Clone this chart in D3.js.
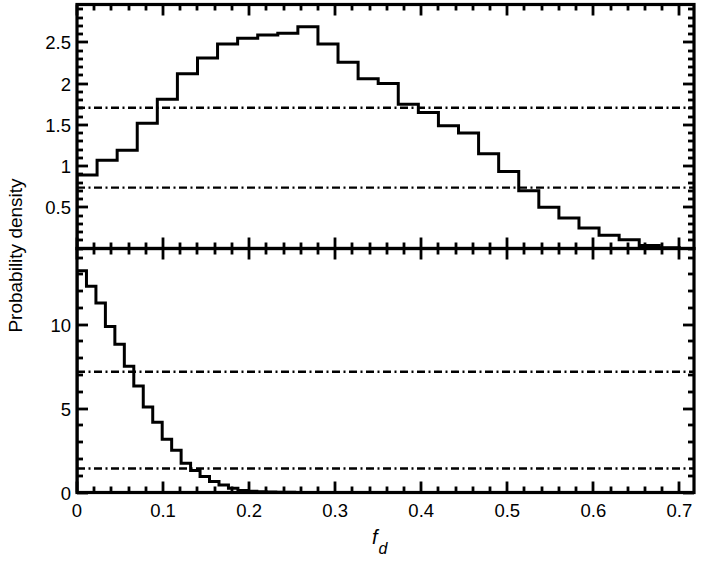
<!DOCTYPE html>
<html>
<head>
<meta charset="utf-8">
<script src="https://cdn.jsdelivr.net/npm/d3@7"></script>
<style>
  html, body { margin: 0; padding: 0; background: #fff; }
  svg { display: block; }
  text { font-family: "Liberation Sans", Arial, Helvetica, sans-serif; fill: #000; }
</style>
</head>
<body>
<svg id="chart" width="702" height="561"></svg>
<script>
// ---- data ----
const topBinStart = 0;
const topBinWidth = 0.7 / 30;
const topValues = [0.89, 1.07, 1.19, 1.52, 1.81, 2.12, 2.31, 2.48, 2.55, 2.59,
                   2.61, 2.69, 2.48, 2.26, 2.06, 2.00, 1.75, 1.65, 1.49, 1.40,
                   1.15, 0.935, 0.70, 0.50, 0.37, 0.25, 0.16, 0.105, 0.035, 0.01];
const topRefLines = [1.706, 0.738];

const bottomBinStart = 0;
const bottomBinWidth = 0.011;
const bottomValues = [13.22, 12.29, 11.29, 9.89, 8.83, 7.53, 6.34, 5.10, 4.18, 3.17,
                      2.52, 1.75, 1.31, 0.95, 0.65, 0.45, 0.25, 0.12, 0.07, 0.05,
                      0.03, 0.02, 0.01, 0.005];
const bottomRefLines = [7.2, 1.43];

const xMajorTicks = [0, 0.1, 0.2, 0.3, 0.4, 0.5, 0.6, 0.7];
const topYMajorTicks = [0.5, 1, 1.5, 2, 2.5];
const bottomYMajorTicks = [0, 5, 10];
const yLabel = "Probability density";

// ---- layout ----
const svg = d3.select("#chart");
const left = 77, right = 694;
const topPanel = { y0: 4.5, y1: 248.5 };
const botPanel = { y0: 248.5, y1: 492.5 };

const x = d3.scaleLinear().domain([0, 0.717]).range([left, right]);
const yTop = d3.scaleLinear().domain([0, 1.1 * d3.max(topValues)]).range([topPanel.y1, topPanel.y0]);
const yBot = d3.scaleLinear().domain([0, 1.1 * d3.max(bottomValues)]).range([botPanel.y1, botPanel.y0]);

const majorLen = 11, minorLen = 6;

function ticksBetween(domain, step) {
  const out = [];
  const n0 = Math.ceil(domain[0] / step - 1e-9), n1 = Math.floor(domain[1] / step + 1e-9);
  for (let i = n0; i <= n1; i++) out.push(+(i * step).toFixed(6));
  return out;
}

function drawPanel(id, y, p, values, binStart, binWidth, refLines, yMajor, yMinorStep, yLabels) {
  const g = svg.append("g");
  const clipId = "clip-" + id;
  svg.append("clipPath").attr("id", clipId)
    .append("rect").attr("x", left).attr("y", p.y0).attr("width", right - left).attr("height", p.y1 - p.y0);

  // reference dash-dot lines
  g.selectAll(".ref").data(refLines).enter().append("line")
    .attr("x1", left).attr("x2", right)
    .attr("y1", d => y(d)).attr("y2", d => y(d))
    .attr("stroke", "#000").attr("stroke-width", 2.4)
    .attr("stroke-dasharray", "8,3.5,2,3.5");

  // histogram step path
  const pts = [];
  values.forEach((v, i) => {
    const a = binStart + i * binWidth, b = a + binWidth;
    if (i === 0) pts.push([a, 0]);
    pts.push([a, v]); pts.push([b, v]);
    if (i === values.length - 1) pts.push([b, 0]);
  });
  const line = d3.line().x(d => x(d[0])).y(d => y(d[1]));
  g.append("path").attr("d", line(pts))
    .attr("fill", "none").attr("stroke", "#000").attr("stroke-width", 3)
    .attr("stroke-linejoin", "miter").attr("stroke-linecap", "square")
    .attr("clip-path", `url(#${clipId})`);

  // ticks
  const tg = g.append("g").attr("stroke", "#000").attr("stroke-width", 2.8);
  const xMinor = ticksBetween(x.domain(), 0.02);
  xMinor.forEach(t => {
    const isMajor = xMajorTicks.some(m => Math.abs(m - t) < 1e-6);
    const len = isMajor ? majorLen : minorLen;
    const xx = Math.round(x(t));
    tg.append("line").attr("x1", xx).attr("x2", xx).attr("y1", p.y0).attr("y2", p.y0 + len);
    tg.append("line").attr("x1", xx).attr("x2", xx).attr("y1", p.y1).attr("y2", p.y1 - len);
  });
  const yMinor = ticksBetween(y.domain(), yMinorStep);
  yMinor.forEach(t => {
    const isMajor = yMajor.some(m => Math.abs(m - t) < 1e-6);
    const len = isMajor ? majorLen : minorLen;
    const yy = Math.round(y(t));
    tg.append("line").attr("x1", left).attr("x2", left + len).attr("y1", yy).attr("y2", yy);
    tg.append("line").attr("x1", right).attr("x2", right - len).attr("y1", yy).attr("y2", yy);
  });

  // frame
  g.append("rect").attr("x", left).attr("y", p.y0).attr("width", right - left).attr("height", p.y1 - p.y0)
    .attr("fill", "none").attr("stroke", "#000").attr("stroke-width", 3.2);

  // y labels
  g.selectAll(".ylab").data(yLabels).enter().append("text")
    .attr("x", 71).attr("y", d => y(d) + 7)
    .attr("text-anchor", "end").attr("font-size", 18.5)
    .text(d => d3.format("~g")(d));
}

drawPanel("top", yTop, topPanel, topValues, topBinStart, topBinWidth, topRefLines, topYMajorTicks, 0.1, topYMajorTicks);
drawPanel("bot", yBot, botPanel, bottomValues, bottomBinStart, bottomBinWidth, bottomRefLines, bottomYMajorTicks, 1, bottomYMajorTicks);

// x tick labels
svg.selectAll(".xlab").data(xMajorTicks).enter().append("text")
  .attr("x", d => x(d)).attr("y", 517)
  .attr("text-anchor", "middle").attr("font-size", 18.5)
  .text(d => d3.format("~g")(d));

// x title f_d
const xt = svg.append("text").attr("x", 372).attr("y", 544).attr("font-size", 20);
xt.append("tspan").attr("font-style", "italic").text("f");
xt.append("tspan").attr("font-style", "italic").attr("font-size", 16).attr("dx", 1).attr("dy", 10).text("d");

// y title
svg.append("text")
  .attr("transform", "translate(22,255.5) rotate(-90)")
  .attr("text-anchor", "middle").attr("font-size", 19)
  .text(yLabel);
</script>
</body>
</html>
